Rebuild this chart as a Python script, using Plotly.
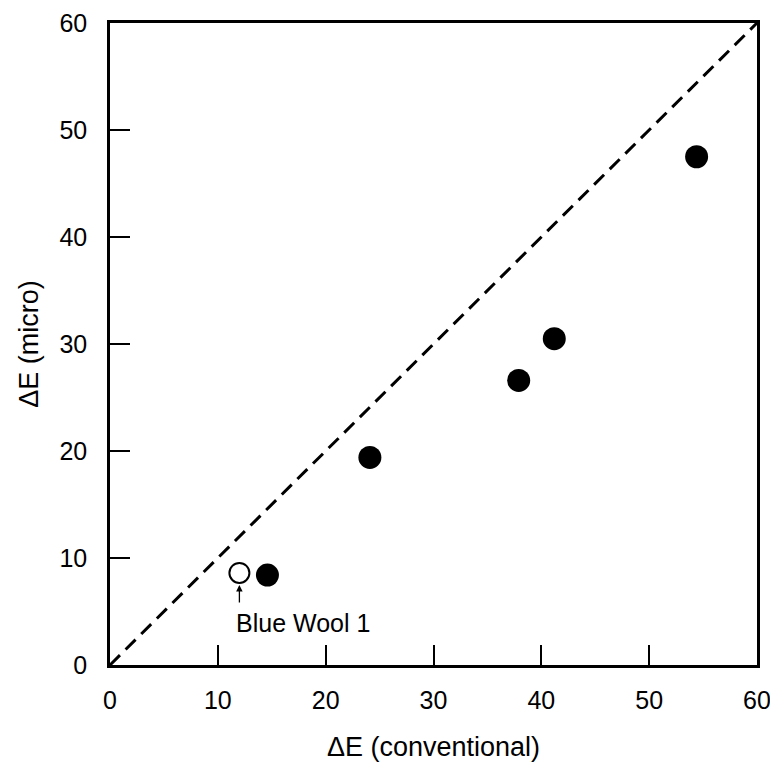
import plotly.graph_objects as go

# Data
filled_x = [14.6, 24.1, 37.9, 41.2, 54.4]
filled_y = [8.4, 19.4, 26.6, 30.5, 47.5]
open_x = [12.0]
open_y = [8.6]
line_x = [0, 60]
line_y = [0, 60]
tick_vals = [0, 10, 20, 30, 40, 50, 60]
annot_label = "Blue Wool 1"

FONT = "Liberation Sans, Arial, Helvetica, sans-serif"

fig = go.Figure()
fig.add_trace(go.Scatter(x=line_x, y=line_y, mode="lines",
                         line=dict(color="black", width=3, dash="14px,8px"),
                         hoverinfo="skip", showlegend=False))
fig.add_trace(go.Scatter(x=filled_x, y=filled_y, mode="markers",
                         marker=dict(size=23, color="black", line=dict(width=0)),
                         showlegend=False))
fig.add_trace(go.Scatter(x=open_x, y=open_y, mode="markers",
                         marker=dict(size=20, color="white", line=dict(width=2, color="black")),
                         showlegend=False))

# arrow pointing to the open circle
fig.add_annotation(x=open_x[0], y=open_y[0], xref="x", yref="y", text="",
                   showarrow=True, ax=0, ay=31, axref="pixel", ayref="pixel",
                   arrowhead=2, arrowsize=1, arrowwidth=1.3, arrowcolor="black",
                   standoff=12)
fig.add_annotation(x=17.9, y=3.9, xref="x", yref="y", text=annot_label,
                   showarrow=False, font=dict(family=FONT, size=25, color="black"))

axis_common = dict(range=[0, 60], tickvals=tick_vals, ticks="inside", ticklen=20,
                   tickwidth=2, tickcolor="black", showline=True, linecolor="black",
                   linewidth=2.5, mirror=True, showgrid=False, zeroline=False,
                   automargin=False, ticklabeloverflow="allow",
                   tickfont=dict(family=FONT, size=25, color="black"))

fig.update_xaxes(**axis_common,
                 title=dict(text="ΔE (conventional)", font=dict(family=FONT, size=27, color="black"),
                            standoff=25),
                 ticklabelstandoff=11)
fig.update_yaxes(**axis_common,
                 title=dict(text="ΔE (micro)", font=dict(family=FONT, size=27, color="black"),
                            standoff=13),
                 ticklabelstandoff=15)

fig.update_layout(width=770, height=763, margin=dict(l=110, r=13, t=23, b=98),
                  plot_bgcolor="white", paper_bgcolor="white", showlegend=False)

fig.write_html("out.html", config={"displayModeBar": False},
               post_script="document.body.style.margin='0';document.body.style.overflow='hidden';")
